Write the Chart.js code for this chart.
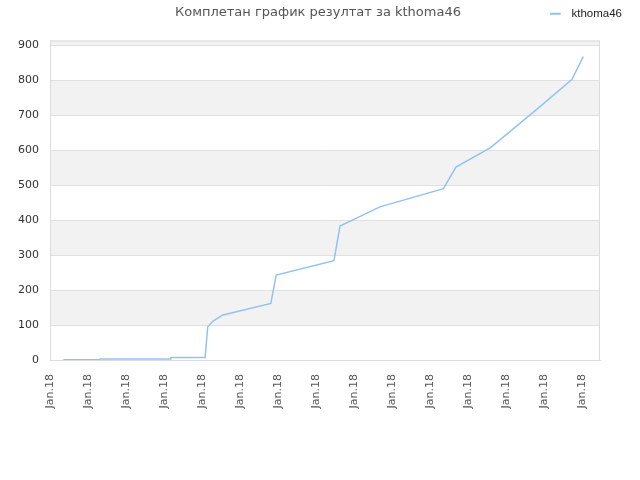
<!DOCTYPE html>
<html>
<head>
<meta charset="utf-8">
<script src="https://cdn.jsdelivr.net/npm/chart.js@4.4.1/dist/chart.umd.min.js"></script>
<style>
  html, body { margin: 0; padding: 0; background: #fff; }
  #wrap { position: relative; width: 640px; height: 480px; }
  #title { position: absolute; left: 0; top: 4px; width: 636px; text-align: center;
    font-family: "DejaVu Sans", sans-serif; font-size: 13px; color: #555; }
  canvas { position: absolute; left: 0; top: 0; }
</style>
</head>
<body>
<div id="wrap">
  <canvas id="c" width="640" height="480"></canvas>
  <div id="title">Комплетан график резултат за kthoma46</div>
</div>
<script>
// Series: x position (in tick units, one per date label) and cumulative score
const seriesName = "kthoma46";
const xPos = [0.35, 1.30, 1.32, 3.16, 3.18, 4.08, 4.15, 4.30, 4.55, 5.81, 5.95, 7.47, 7.63, 8.16, 8.68, 10.35, 10.68, 11.58, 11.66, 12.72, 13.73, 14.03];
const scores = [1, 1, 3, 3, 7, 7, 95, 112, 129, 162, 243, 284, 383, 411, 438, 490, 552, 607, 614, 709, 802, 868];
const xTickLabels = ["Jan.18","Jan.18","Jan.18","Jan.18","Jan.18","Jan.18","Jan.18","Jan.18","Jan.18","Jan.18","Jan.18","Jan.18","Jan.18","Jan.18","Jan.18"];
const yMax = 914;

const lineColor = '#92c2f2';

// legend swatch: short line, left part of a 16px box
const swatch = document.createElement('canvas');
swatch.width = 16; swatch.height = 8;
(function () {
  const g = swatch.getContext('2d');
  g.fillStyle = lineColor;
  g.fillRect(0, 3, 11, 2);
})();

const bandsPlugin = {
  id: 'bands',
  beforeDraw(chart) {
    const { ctx, chartArea: a, scales: { y } } = chart;
    ctx.save();
    for (let v = 0; v < yMax; v += 100) {
      if ((v / 100) % 2 === 1) {
        const top = y.getPixelForValue(Math.min(v + 100, yMax));
        const bot = y.getPixelForValue(v);
        ctx.fillStyle = '#f2f2f2';
        ctx.fillRect(a.left, top, a.right - a.left, bot - top);
      }
    }
    ctx.restore();
  },
  afterDraw(chart) {
    const { ctx, chartArea: a } = chart;
    ctx.save();
    ctx.strokeStyle = '#dcdcdc';
    ctx.lineWidth = 1;
    ctx.strokeRect(a.left + 0.5, a.top + 0.5, a.right - a.left - 1, a.bottom - a.top);
    ctx.restore();
  }
};

new Chart(document.getElementById('c'), {
  type: 'line',
  data: {
    datasets: [{
      label: seriesName,
      data: xPos.map((x, i) => ({ x: x, y: scores[i] })),
      xAxisID: 'x',
      yAxisID: 'y',
      borderColor: lineColor,
      backgroundColor: lineColor,
      borderWidth: 1.5,
      pointRadius: 0,
      tension: 0,
      fill: false
    }]
  },
  options: {
    responsive: false,
    animation: false,
    layout: { padding: { top: 0, right: 10, bottom: 0, left: 0 } },
    plugins: {
      title: { display: false },
      tooltip: { enabled: false },
      legend: {
        display: true,
        position: 'top',
        align: 'end',
        labels: {
          usePointStyle: true,
          pointStyle: swatch,
          pointStyleWidth: 16,
          boxHeight: 8,
          padding: 8,
          color: '#222',
          font: { family: 'Liberation Sans', size: 11.5 }
        }
      }
    },
    scales: {
      xTop: {
        type: 'linear',
        position: 'top',
        display: true,
        afterFit(s) { s.height = 11; },
        grid: { display: false },
        border: { display: false },
        ticks: { display: false }
      },
      x: {
        type: 'linear',
        min: 0,
        max: 14.47,
        grid: { display: false },
        border: { display: true, color: '#dcdcdc' },
        afterFit(s) { s.height = 120; },
        ticks: {
          stepSize: 1,
          includeBounds: false,
          autoSkip: false,
          minRotation: 90,
          maxRotation: 90,
          padding: 6,
          color: '#555',
          font: { family: 'DejaVu Sans', size: 11 },
          callback: (v) => xTickLabels[Math.round(v)] ?? ''
        }
      },
      y: {
        min: 0,
        max: yMax,
        afterFit(s) { s.width = 50; },
        grid: { color: '#e0e0e0', drawTicks: false },
        border: { display: true, color: '#dcdcdc' },
        ticks: {
          stepSize: 100,
          includeBounds: false,
          padding: 11,
          color: '#333',
          font: { family: 'DejaVu Sans', size: 11 }
        }
      },
      y2: {
        position: 'right',
        display: true,
        afterFit(s) { s.width = 30; },
        grid: { display: false },
        border: { display: false },
        ticks: { display: false }
      }
    }
  },
  plugins: [bandsPlugin]
});
</script>
</body>
</html>
